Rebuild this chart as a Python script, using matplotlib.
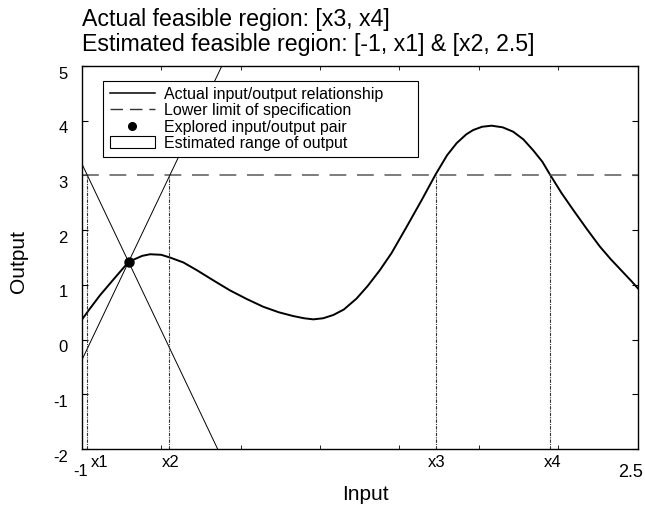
import matplotlib
matplotlib.use('Agg')
import matplotlib.pyplot as plt
import matplotlib.transforms as mtransforms
from matplotlib.lines import Line2D
from matplotlib.patches import Patch
from matplotlib.ticker import MultipleLocator
import numpy as np

plt.rcParams['font.family'] = ['Liberation Sans', 'DejaVu Sans']
plt.rcParams['axes.unicode_minus'] = False

# actual input/output relationship
curve_x = [-1.00, -0.95, -0.885, -0.80, -0.705, -0.62, -0.57, -0.50, -0.444, -0.36,
           -0.276, -0.17, -0.067, 0.04, 0.143, 0.24, 0.332, 0.40, 0.458, 0.52,
           0.584, 0.65, 0.73, 0.80, 0.877, 0.95, 1.045, 1.14, 1.228, 1.30,
           1.36, 1.42, 1.464, 1.52, 1.58, 1.65, 1.716, 1.78, 1.842, 1.90,
           1.947, 2.02, 2.094, 2.18, 2.262, 2.33, 2.408, 2.46, 2.50]
curve_y = [0.36, 0.56, 0.81, 1.10, 1.42, 1.53, 1.56, 1.55, 1.50, 1.41,
           1.27, 1.08, 0.90, 0.74, 0.60, 0.50, 0.43, 0.39, 0.37, 0.39,
           0.45, 0.55, 0.75, 0.98, 1.27, 1.58, 2.06, 2.55, 3.02, 3.37,
           3.59, 3.75, 3.83, 3.89, 3.91, 3.88, 3.80, 3.66, 3.46, 3.25,
           3.02, 2.68, 2.37, 2.02, 1.70, 1.47, 1.23, 1.07, 0.94]

# explored pair and the slope bound used for the estimated range
point_x = -0.705
point_y = 1.42
slope_bound = 6.1

spec_limit = 3.0

# x1..x4 and the labelled ticks
bound_x = [-0.965, -0.45, 1.228, 1.945]
tick_pos = [-1, -0.965, -0.45, 1.228, 1.945, 2.5]
tick_text = ['-1', 'x1', 'x2', 'x3', 'x4', '2.5']

title_lines = ['Actual feasible region: [x3, x4]',
               'Estimated feasible region: [-1, x1] & [x2, 2.5]']
legend_labels = ['Actual input/output relationship',
                 'Lower limit of specification',
                 'Explored input/output pair',
                 'Estimated range of output']

fig = plt.figure(figsize=(6.45, 5.12), dpi=100)
ax = fig.add_axes([0.1267, 0.123, 0.862, 0.748])
ax.set_xlim(-1, 2.5)
ax.set_ylim(-2, 5)

ax.plot(curve_x, curve_y, color='black', lw=1.4)
ax.axhline(spec_limit, color='0.35', lw=1.1, dashes=(11, 7))

xs = np.array(ax.get_xlim())
ax.plot(xs, point_y + slope_bound * (xs - point_x), color='black', lw=0.7)
ax.plot(xs, point_y - slope_bound * (xs - point_x), color='black', lw=0.7)

ax.vlines(bound_x, ax.get_ylim()[0], spec_limit, colors='0.2', lw=0.8,
          linestyles=(0, (3, 1, 1, 1)))

ax.plot(point_x, point_y, 'o', color='black', ms=6.5)

handles = [Line2D([], [], color='black', lw=1.1),
           Line2D([], [], color='0.2', lw=1.0, dashes=(9, 5)),
           Line2D([], [], marker='o', color='black', ls='none', ms=5.5),
           Patch(facecolor='white', edgecolor='black', lw=0.8)]
leg = ax.legend(handles, legend_labels, loc='upper left',
                bbox_to_anchor=(0.039, 0.0, 0.566, 0.962), mode='expand',
                borderaxespad=0, fontsize=11.5, handlelength=2.8,
                handletextpad=0.6, labelspacing=0.08, handleheight=0.8,
                borderpad=0.4, fancybox=False, framealpha=1, edgecolor='black')
leg.get_frame().set_linewidth(0.8)

ax.set_xticks(tick_pos, tick_text)
ax.tick_params(axis='x', which='major', length=0, labelsize=12)
ax.xaxis.set_minor_locator(MultipleLocator(0.5))
ax.tick_params(axis='x', which='minor', direction='in', length=3, top=True, bottom=True)
ax.set_yticks(range(-2, 6))
ax.tick_params(axis='y', direction='in', length=4, left=True, right=True,
               labelsize=12, pad=10)

x_shift = {'-1': -1, 'x1': 12, 'x2': 2, 'x3': 1, 'x4': 3, '2.5': -7}
for tick, lab in zip(ax.xaxis.get_major_ticks(), tick_text):
    tick.set_pad(11 if lab in ('-1', '2.5') else 4)
    off = mtransforms.ScaledTranslation(x_shift[lab] / 100, 0, fig.dpi_scale_trans)
    tick.label1.set_transform(tick.label1.get_transform() + off)
ax.xaxis.get_major_ticks()[-1].label1.set_fontsize(13)

for tick in ax.yaxis.get_major_ticks():
    off = mtransforms.ScaledTranslation(0, -0.065, fig.dpi_scale_trans)
    tick.label1.set_transform(tick.label1.get_transform() + off)

for sp in ax.spines.values():
    sp.set_linewidth(1.0)

ax.set_title('\n'.join(title_lines), loc='left', fontsize=16.7, pad=11, linespacing=1.12)

ax.set_xlabel('Input', fontsize=15)
ax.xaxis.label.set_va('center')
ax.xaxis.set_label_coords(0.51, -0.12)
ax.set_ylabel('Output', fontsize=15)
ax.yaxis.label.set_va('center')
ax.yaxis.set_label_coords(-0.1146, 0.49)

fig.savefig('out.png', dpi=100)
